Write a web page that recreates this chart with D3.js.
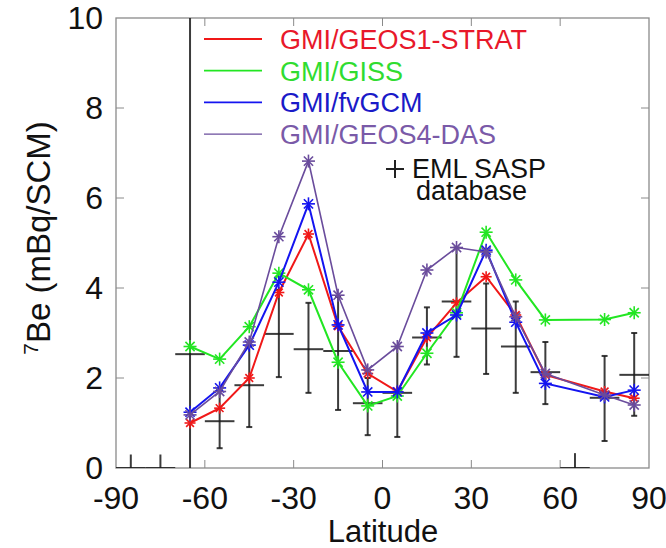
<!DOCTYPE html>
<html><head><meta charset="utf-8">
<script src="https://cdn.jsdelivr.net/npm/d3@7"></script>
<style>body{margin:0;background:#fff}svg{display:block}text{font-family:"Liberation Sans",Arial,Helvetica,sans-serif}</style>
</head><body><svg id="c" width="666" height="548"></svg>
<script>
const lats = [-65,-55,-45,-35,-25,-15,-5,5,15,25,35,45,55,75,85];
const geos1 = [1.0,1.33,2.0,3.9,5.2,3.15,2.1,1.7,2.9,3.67,4.25,3.4,2.07,1.7,1.55];
const giss  = [2.7,2.42,3.14,4.33,3.96,2.35,1.38,1.6,2.55,3.45,5.24,4.18,3.29,3.3,3.45];
const fvgcm = [1.24,1.78,2.73,4.13,5.87,3.18,1.69,1.69,3.0,3.4,4.84,3.24,1.88,1.58,1.73];
const geos4 = [1.18,1.7,2.8,5.14,6.82,3.84,2.18,2.7,4.4,4.9,4.8,3.36,2.1,1.62,1.4];
const emlLat  = [-85,-75,-65,-55,-45,-35,-25,-15,-5,5,15,25,35,45,55,65,75,85];
const emlVal  = [0,0,2.53,1.04,1.84,2.98,2.64,2.6,1.44,1.67,2.9,3.7,3.1,2.7,2.13,0,1.56,2.07];
const emlLow  = [-0.3,-0.3,-1,0.44,0.91,2.02,1.67,1.29,0.73,0.69,2.3,2.47,2.09,1.67,1.42,-0.33,0.6,1.16];
const emlHigh = [0.3,0.3,11,1.73,2.7,3.96,3.67,3.8,2.0,2.7,3.57,4.9,4.1,3.7,2.8,0.33,2.49,3.0];
const xTicks = [-90,-60,-30,0,30,60,90];
const yTicks = [0,2,4,6,8,10];
const seriesNames = ["GMI/GEOS1-STRAT","GMI/GISS","GMI/fvGCM","GMI/GEOS4-DAS"];
const seriesColors = ["#f01818","#22e622","#1414f0","#6a4c9c"];
const textColors = ["#e8182a","#30dc30","#1a1ac8","#7a5aa8"];

const svg = d3.select("#c");
const L=116,R=649,T=18,B=468;
const x = d3.scaleLinear().domain([-90,90]).range([L,R]);
const y = d3.scaleLinear().domain([0,10]).range([B,T]);

svg.append("defs").append("clipPath").attr("id","clip")
  .append("rect").attr("x",L).attr("y",T).attr("width",R-L).attr("height",B-T);

// frame and ticks
const axCol="#8a8a8a";
svg.append("rect").attr("x",L).attr("y",T).attr("width",R-L).attr("height",B-T)
  .attr("fill","none").attr("stroke",axCol).attr("stroke-width",1.3);
const inner = xTicks.filter(d=>d>-90&&d<90);
svg.append("g").selectAll("line").data(inner).join("line")
  .attr("x1",d=>x(d)).attr("x2",d=>x(d)).attr("y1",B).attr("y2",B-8).attr("stroke",axCol);
svg.append("g").selectAll("line").data(inner).join("line")
  .attr("x1",d=>x(d)).attr("x2",d=>x(d)).attr("y1",T).attr("y2",T+8).attr("stroke",axCol);
const yin = yTicks.filter(d=>d>0&&d<10);
svg.append("g").selectAll("line").data(yin).join("line")
  .attr("x1",L).attr("x2",L+8).attr("y1",d=>y(d)).attr("y2",d=>y(d)).attr("stroke",axCol);
svg.append("g").selectAll("line").data(yin).join("line")
  .attr("x1",R).attr("x2",R-8).attr("y1",d=>y(d)).attr("y2",d=>y(d)).attr("stroke",axCol);

// tick labels
svg.append("g").selectAll("text").data(xTicks).join("text")
  .attr("x",d=>x(d)).attr("y",509).attr("text-anchor","middle")
  .attr("font-size",32).attr("fill","#111").text(d=>d);
svg.append("g").selectAll("text").data(yTicks).join("text")
  .attr("x",103).attr("y",d=>y(d)+11).attr("text-anchor","end")
  .attr("font-size",32).attr("fill","#111").text(d=>d);
svg.append("text").attr("x",383).attr("y",542).attr("text-anchor","middle")
  .attr("font-size",31).attr("fill","#111").text("Latitude");
const yl = svg.append("text").attr("transform","translate(50,238) rotate(-90)")
  .attr("text-anchor","middle").attr("font-size",33).attr("fill","#111");
yl.append("tspan").attr("font-size",21).attr("dy",-12).text("7");
yl.append("tspan").attr("dy",12).text("Be (mBq/SCM)");

const plot = svg.append("g").attr("clip-path","url(#clip)");

// EML data
const eml = emlLat.map((d,i)=>({lat:d,v:emlVal[i],lo:emlLow[i],hi:emlHigh[i]}));
const eg = plot.append("g").attr("stroke","#1a1a1a").attr("stroke-width",2).attr("stroke-opacity",0.85);
eg.selectAll(".v").data(eml).join("line").attr("x1",d=>x(d.lat)).attr("x2",d=>x(d.lat))
  .attr("y1",d=>y(d.lo)).attr("y2",d=>y(d.hi));
eg.selectAll(".h").data(eml).join("line").attr("x1",d=>x(d.lat-5)).attr("x2",d=>x(d.lat+5))
  .attr("y1",d=>y(d.v)).attr("y2",d=>y(d.v));
eg.selectAll(".c1").data(eml.filter(d=>d.lo>0)).join("line").attr("x1",d=>x(d.lat)-3).attr("x2",d=>x(d.lat)+3)
  .attr("y1",d=>y(d.lo)).attr("y2",d=>y(d.lo));
eg.selectAll(".c2").data(eml.filter(d=>d.hi<10&&d.hi>0.5)).join("line").attr("x1",d=>x(d.lat)-3).attr("x2",d=>x(d.lat)+3)
  .attr("y1",d=>y(d.hi)).attr("y2",d=>y(d.hi));

// model series
const allSeries=[geos1,giss,fvgcm,geos4];
const line = d3.line().x((d,i)=>x(lats[i])).y(d=>y(d));
function star(g,cx,cy,r,col){
  for(let k=0;k<4;k++){const a=k*Math.PI/4;
    g.append("line").attr("x1",cx-r*Math.cos(a)).attr("x2",cx+r*Math.cos(a))
     .attr("y1",cy-r*Math.sin(a)).attr("y2",cy+r*Math.sin(a)).attr("stroke",col).attr("stroke-width",1.6);}
}
allSeries.forEach((s,si)=>{
  const g=plot.append("g");
  g.append("path").datum(s).attr("d",line).attr("fill","none").attr("stroke",seriesColors[si])
   .attr("stroke-width",si===3?1.6:2);
  s.forEach((v,i)=>star(g,x(lats[i]),y(v),si===0?5.5:6.5,seriesColors[si]));
});

// legend
seriesNames.forEach((n,i)=>{
  const ly=39+i*31.7;
  svg.append("line").attr("x1",204).attr("x2",262).attr("y1",ly).attr("y2",ly)
    .attr("stroke",seriesColors[i]).attr("stroke-width",i===3?1.4:1.8);
  svg.append("text").attr("x",280).attr("y",ly+10).attr("font-size",27).attr("fill",textColors[i]).text(n);
});
svg.append("line").attr("x1",386).attr("x2",404).attr("y1",169).attr("y2",169).attr("stroke","#222").attr("stroke-width",2);
svg.append("line").attr("x1",395).attr("x2",395).attr("y1",160).attr("y2",178).attr("stroke","#222").attr("stroke-width",2);
const emlText = svg.append("text").attr("font-size",27).attr("fill","#111");
emlText.append("tspan").attr("x",412).attr("y",178).text("EML SASP");
emlText.append("tspan").attr("x",416).attr("y",200).text("database");
</script></body></html>
